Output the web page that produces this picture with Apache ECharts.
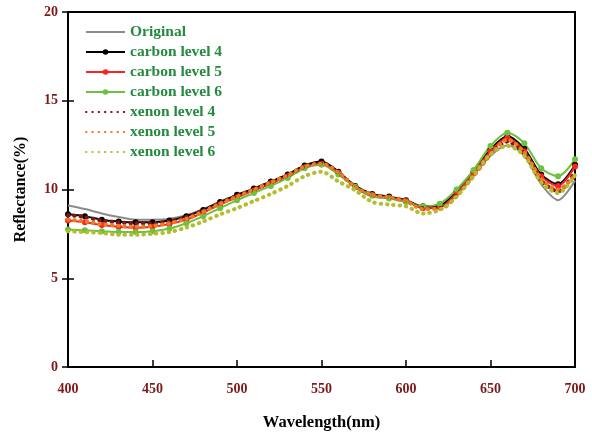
<!DOCTYPE html>
<html><head><meta charset="utf-8">
<script src="https://cdn.jsdelivr.net/npm/echarts@6/dist/echarts.min.js"></script>
<style>html,body{margin:0;padding:0;background:#fff}#c{width:592px;height:436px}</style>
</head><body><div id="c"></div>
<script>
var wavelengths = [400,410,420,430,440,450,460,470,480,490,500,510,520,530,540,550,560,570,580,590,600,610,620,630,640,650,660,670,680,690,700];
var original = [9.1,8.9,8.65,8.45,8.3,8.3,8.35,8.55,8.9,9.3,9.65,9.95,10.35,10.8,11.3,11.5,10.9,10.1,9.6,9.5,9.3,9.0,9.0,9.7,10.8,11.9,12.5,11.9,10.3,9.4,10.5];
var carbon4 = [8.6,8.5,8.3,8.2,8.15,8.15,8.25,8.5,8.85,9.3,9.7,10.05,10.45,10.85,11.35,11.58,11.0,10.2,9.75,9.6,9.4,9.05,9.1,9.9,11.0,12.25,13.0,12.3,10.85,10.3,11.4];
var carbon5 = [8.25,8.15,8.0,7.9,7.85,7.9,8.05,8.3,8.7,9.15,9.55,9.95,10.35,10.75,11.25,11.45,10.95,10.15,9.7,9.55,9.35,8.95,9.0,9.8,10.95,12.15,12.9,12.15,10.75,10.2,11.3];
var carbon6 = [7.75,7.7,7.65,7.6,7.6,7.65,7.8,8.1,8.5,8.95,9.4,9.8,10.2,10.65,11.2,11.4,10.85,10.15,9.65,9.5,9.3,9.05,9.2,10.0,11.1,12.45,13.2,12.6,11.2,10.75,11.7];
var xenon4 = [8.55,8.45,8.25,8.15,8.1,8.1,8.2,8.45,8.8,9.25,9.65,10.0,10.4,10.8,11.3,11.5,10.95,10.15,9.7,9.55,9.35,8.95,8.95,9.7,10.8,12.0,12.7,12.0,10.5,9.9,11.0];
var xenon5 = [8.3,8.2,8.05,7.95,7.9,7.95,8.1,8.35,8.75,9.2,9.6,10.0,10.4,10.8,11.3,11.45,10.95,10.15,9.7,9.55,9.35,8.9,8.9,9.65,10.75,11.95,12.8,12.1,10.6,10.0,10.8];
var xenon6 = [7.65,7.6,7.55,7.45,7.45,7.5,7.6,7.85,8.2,8.6,8.95,9.35,9.75,10.2,10.75,11.0,10.45,9.95,9.3,9.15,9.05,8.65,8.85,9.6,10.8,12.0,12.45,11.9,10.4,9.8,10.8];
var seriesNames = ['Original','carbon level 4','carbon level 5','carbon level 6','xenon level 4','xenon level 5','xenon level 6'];
var xTicks = [400,450,500,550,600,650,700];
var yTicks = [0,5,10,15,20];

function pairs(arr){ return wavelengths.map(function(w,i){ return [w, arr[i]]; }); }
var serif = '"Liberation Serif","Times New Roman",serif';
var labelColor = '#7b1a1a';
function solid(name, arr, color, marker){
  return {name:name, type:'line', data:pairs(arr), smooth:0.3, z: marker?3:2,
    symbol: marker?'circle':'none', symbolSize:6, showSymbol: !!marker,
    itemStyle:{color:color}, lineStyle:{color:color, width:2}};
}
function dotted(name, arr, color){
  return {name:name, type:'line', data:pairs(arr), smooth:0.3, symbol:'none', z:4,
    itemStyle:{color:color}, lineStyle:{color:color, width:4, type:[0.5,5.8], cap:'round'}};
}
var legendData = seriesNames.map(function(n, i){
  var hasMarker = (i >= 1 && i <= 3);
  return hasMarker ? {name:n} : {name:n, itemStyle:{opacity:0}};
});
var chart = echarts.init(document.getElementById('c'), null, {renderer:'canvas'});
chart.setOption({
  animation:false,
  backgroundColor:'#fff',
  grid:{left:68, right:17, top:12, bottom:66, show:true, borderColor:'#000', borderWidth:2},
  legend:{orient:'vertical', left:85, top:24, itemWidth:39, itemHeight:7, itemGap:4, padding:0,
    data:legendData,
    textStyle:{color:'#238a3e', fontFamily:serif, fontWeight:'bold', fontSize:15.5}},
  xAxis:{type:'value', min:400, max:700, interval:50,
    name:'Wavelength(nm)', nameLocation:'middle', nameGap:47,
    nameTextStyle:{color:'#000', fontFamily:serif, fontWeight:'bold', fontSize:16.5},
    axisLine:{lineStyle:{color:'#000', width:2}},
    axisTick:{inside:true, length:7, lineStyle:{color:'#000', width:1.5}},
    axisLabel:{color:labelColor, fontFamily:serif, fontWeight:'bold', fontSize:14, margin:15,
      formatter:function(v){ return xTicks.indexOf(v)>=0 ? String(v) : ''; }},
    splitLine:{show:false}},
  yAxis:[{type:'value', min:0, max:20, interval:5,
    name:'Reflectance(%)', nameLocation:'middle', nameGap:39,
    nameTextStyle:{color:'#000', fontFamily:serif, fontWeight:'bold', fontSize:16},
    axisLine:{lineStyle:{color:'#000', width:2}},
    axisTick:{inside:false, length:6, lineStyle:{color:'#000', width:1.5}},
    axisLabel:{color:labelColor, fontFamily:serif, fontWeight:'bold', fontSize:14, margin:10,
      formatter:function(v){ return yTicks.indexOf(v)>=0 ? String(v) : ''; }},
    splitLine:{show:false}},
   {type:'value', min:0, max:20, interval:5, position:'left',
    axisLine:{show:false}, axisLabel:{show:false}, splitLine:{show:false},
    axisTick:{inside:true, length:6, lineStyle:{color:'#000', width:1.5}}}],
  series:[
    solid(seriesNames[0], original, '#8c8c8c', false),
    solid(seriesNames[1], carbon4, '#000000', true),
    solid(seriesNames[2], carbon5, '#ff2020', true),
    solid(seriesNames[3], carbon6, '#6cc23c', true),
    dotted(seriesNames[4], xenon4, '#7a1818'),
    dotted(seriesNames[5], xenon5, '#f07a22'),
    dotted(seriesNames[6], xenon6, '#b5bd2e')
  ]
});
</script></body></html>
